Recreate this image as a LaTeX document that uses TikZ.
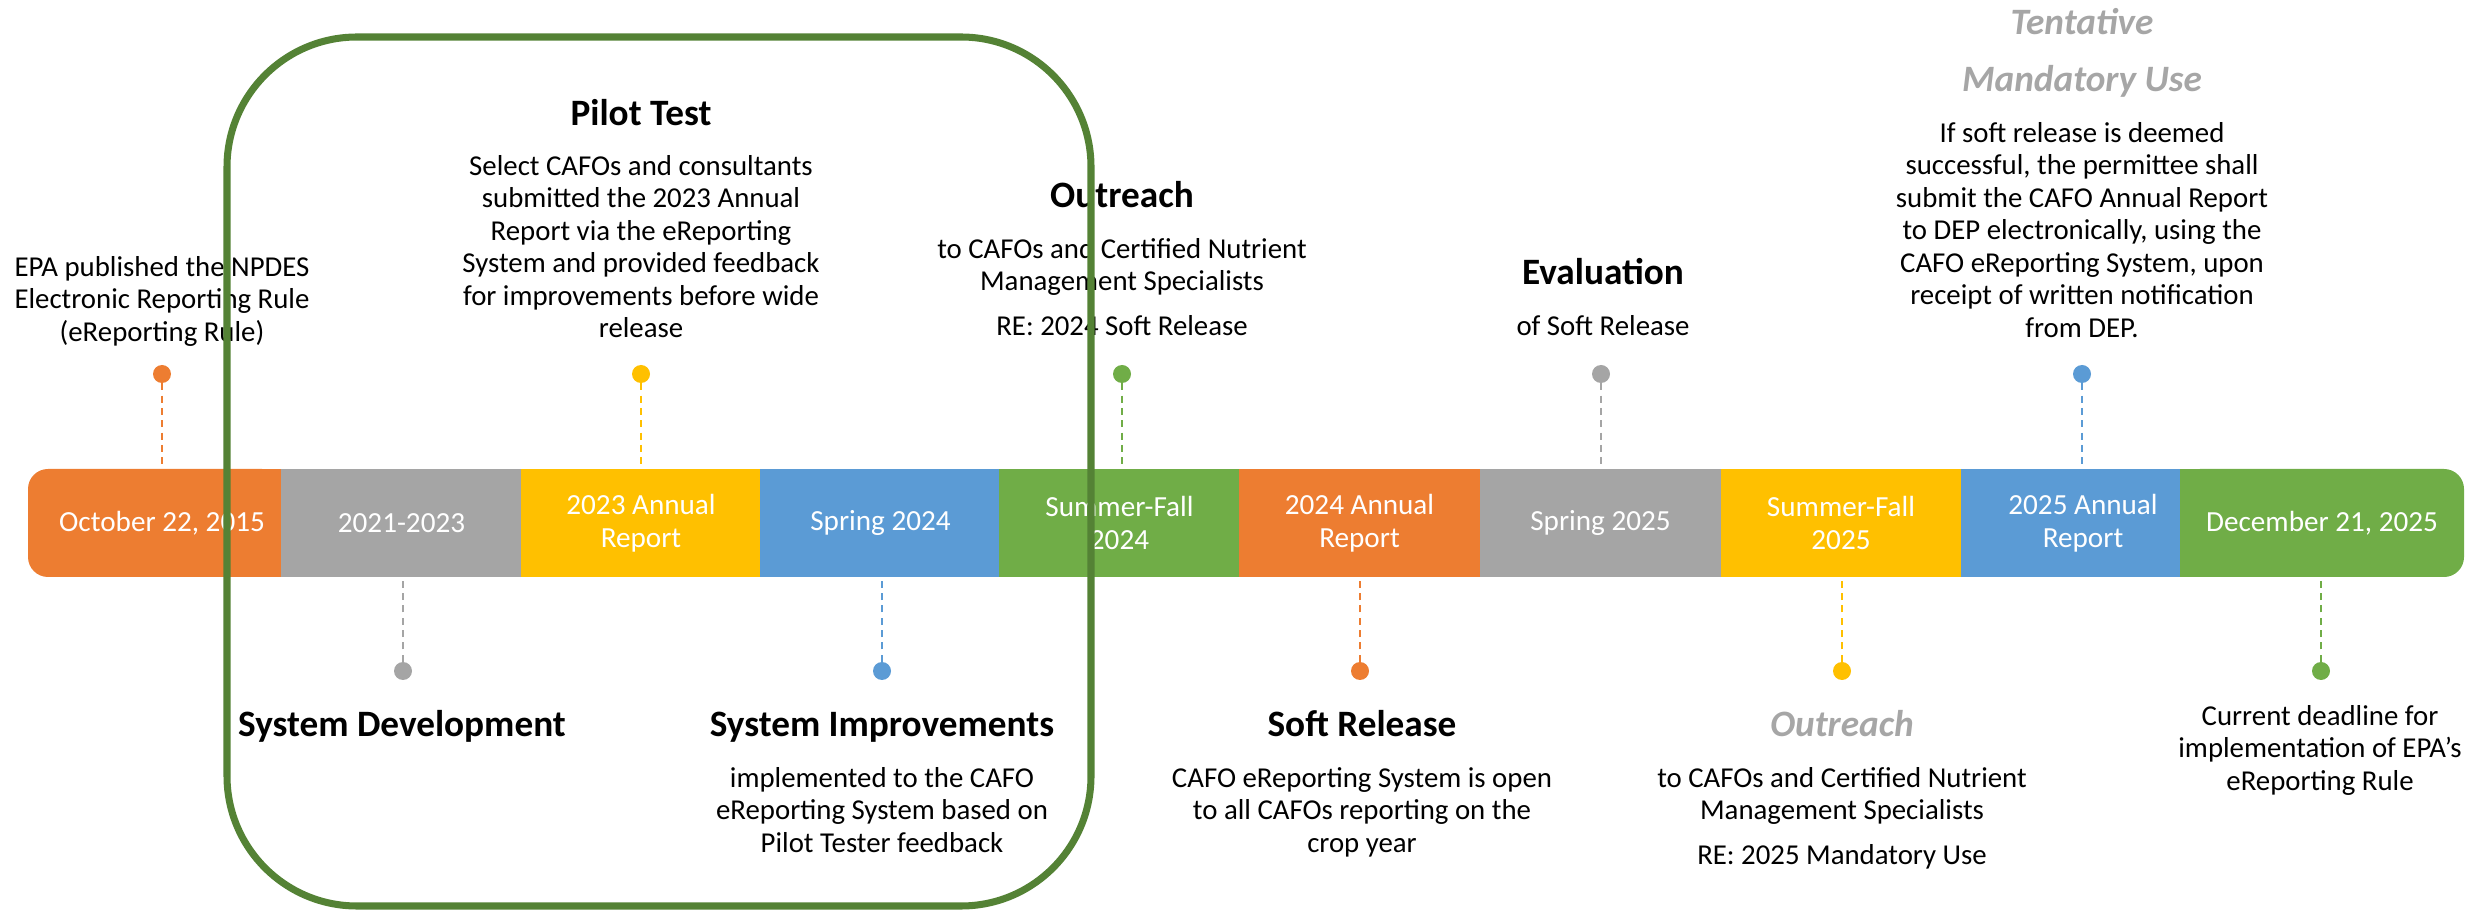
\documentclass[tikz,border=0pt]{standalone}
\usepackage{fontspec}
\setmainfont{Carlito}

\definecolor{tlOrange}{HTML}{ED7D31}
\definecolor{tlGray}{HTML}{A5A5A5}
\definecolor{tlYellow}{HTML}{FFC000}
\definecolor{tlBlue}{HTML}{5B9BD5}
\definecolor{tlGreen}{HTML}{70AD47}
\definecolor{tlFrame}{HTML}{548235}
\definecolor{tlHeadGray}{HTML}{A6A6A6}

\newcommand{\bartxt}{\fontsize{16.6}{18.7}\selectfont}
\newcommand{\bodytxt}{\fontsize{16.4}{18.5}\selectfont}
\newcommand{\headtxt}{\fontsize{21.2}{25}\selectfont\bfseries}

\tikzset{
  seg/.style={minimum width=4.82cm, minimum height=2.16cm, inner sep=0pt,
    align=center, text=white, font=\bartxt},
  bead/.style={circle, inner sep=0pt, minimum size=0.36cm},
  stemline/.style={line width=0.85pt, dash pattern=on 4pt off 3pt},
  bodybox/.style={align=center, inner sep=0pt, font=\bodytxt, anchor=north},
  headbox/.style={inner sep=0pt, font=\headtxt, anchor=base},
  headgray/.style={headbox, text=tlHeadGray, font=\headtxt\itshape}
}

\begin{document}
\begin{tikzpicture}[x=0.02cm, y=-0.02cm]
  \useasboundingbox (0,0) rectangle (2488,911);

  % timeline bar
  \fill[tlOrange, rounded corners=0.4cm] (28,469) rectangle (282,577);
  \fill[tlOrange] (200,469) rectangle (282,577);
  \node[seg] (s1) at (162,523) {October 22, 2015};
  \node[seg, fill=tlGray] (s2) at (401.5,523) {2021-2023};
  \node[seg, fill=tlYellow] (s3) at (641,523) {2023 Annual\\Report};
  \node[seg, fill=tlBlue] (s4) at (880.5,523) {Spring 2024};
  \node[seg, fill=tlGreen] (s5) at (1119.5,523) {Summer-Fall\\2024};
  \node[seg, fill=tlOrange] (s6) at (1359.5,523) {2024 Annual\\Report};
  \node[seg, fill=tlGray] (s7) at (1600.5,523) {Spring 2025};
  \node[seg, fill=tlYellow] (s8) at (1841,523) {Summer-Fall\\2025};
  \node[seg, fill=tlBlue, minimum width=4.88cm] (s9) at (2083,523) {2025 Annual\\Report};
  \fill[tlGreen, rounded corners=0.4cm] (2180,469) rectangle (2464,577);
  \fill[tlGreen] (2180,469) rectangle (2260,577);
  \node[seg] (s10) at (2322,523) {December 21, 2025};

  % markers above
  \node[bead, fill=tlOrange] (d1) at (162,374) {};
  \node[bead, fill=tlYellow] (d3) at (641,374) {};
  \node[bead, fill=tlGreen] (d5) at (1122,374) {};
  \node[bead, fill=tlGray] (d7) at (1601,374) {};
  \node[bead, fill=tlBlue] (d9) at (2082,374) {};
  % markers below
  \node[bead, fill=tlGray] (d2) at (403,671) {};
  \node[bead, fill=tlBlue] (d4) at (882,671) {};
  \node[bead, fill=tlOrange] (d6) at (1360,671) {};
  \node[bead, fill=tlYellow] (d8) at (1842,671) {};
  \node[bead, fill=tlGreen] (d10) at (2321,671) {};

  \draw[stemline, tlOrange] (d1) -- (d1 |- s1.north);
  \draw[stemline, tlYellow] (d3) -- (d3 |- s3.north);
  \draw[stemline, tlGreen] (d5) -- (d5 |- s5.north);
  \draw[stemline, tlGray] (d7) -- (d7 |- s7.north);
  \draw[stemline, tlBlue] (d9) -- (d9 |- s9.north);
  \draw[stemline, tlGray] (d2) -- (d2 |- s2.south);
  \draw[stemline, tlBlue] (d4) -- (d4 |- s4.south);
  \draw[stemline, tlOrange] (d6) -- (d6 |- s6.south);
  \draw[stemline, tlYellow] (d8) -- (d8 |- s8.south);
  \draw[stemline, tlGreen] (d10) -- (d10 |- s10.south);

  % texts above the bar
  \node[bodybox] (epa) at (162,256) {EPA published the NPDES\\Electronic Reporting Rule\\(eReporting Rule)};
  \node[headbox] (pilotH) at (641,125.5) {Pilot Test};
  \node[bodybox] (pilot) at (641,155) {Select CAFOs and consultants\\submitted the 2023 Annual\\Report via the eReporting\\System and provided feedback\\for improvements before wide\\release};
  \node[headbox] (outreachH) at (1122,207.5) {Outreach};
  \node[bodybox] (outreach) at (1122,238) {to CAFOs and Certified Nutrient\\Management Specialists\\[0.25cm]RE: 2024 Soft Release};
  \node[headbox] (evalH) at (1603,284.5) {Evaluation};
  \node[bodybox] (eval) at (1603,315) {of Soft Release};
  \node[headgray] (tentH) at (2082,34.5) {Tentative};
  \node[headgray] (mandH) at (2082,91.5) {Mandatory Use};
  \node[bodybox] (mand) at (2082,122) {If soft release is deemed\\successful, the permittee shall\\submit the CAFO Annual Report\\to DEP electronically, using the\\CAFO eReporting System, upon\\receipt of written notification\\from DEP.};

  % texts below the bar
  \node[headbox] (devH) at (402,736.5) {System Development};
  \node[headbox] (impH) at (882,736.5) {System Improvements};
  \node[bodybox] (imp) at (882,767) {implemented to the CAFO\\eReporting System based on\\Pilot Tester feedback};
  \node[headbox] (softH) at (1362,736.5) {Soft Release};
  \node[bodybox] (soft) at (1362,767) {CAFO eReporting System is open\\to all CAFOs reporting on the\\crop year};
  \node[headgray] (outreach2H) at (1842,736.5) {Outreach};
  \node[bodybox] (outreach2) at (1842,767) {to CAFOs and Certified Nutrient\\Management Specialists\\[0.25cm]RE: 2025 Mandatory Use};
  \node[bodybox] (deadline) at (2320,705) {Current deadline for\\implementation of EPA’s\\eReporting Rule};

  % pilot phase frame
  \draw[tlFrame, line width=4pt, rounded corners=2.6cm] (227,37) rectangle (1091,906);
\end{tikzpicture}
\end{document}
